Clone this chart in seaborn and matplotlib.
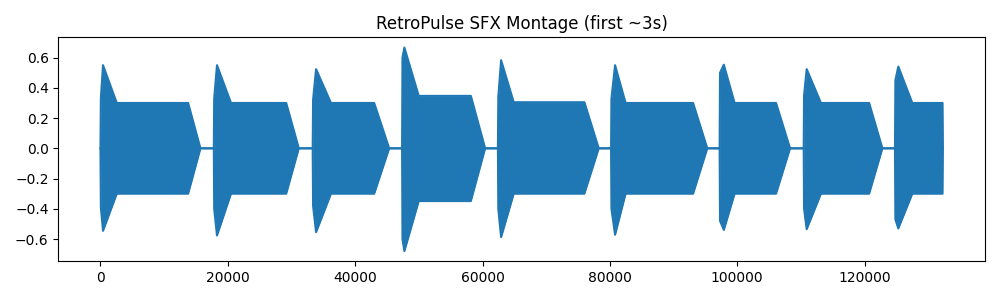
import numpy as np
import pandas as pd
import matplotlib
matplotlib.use("Agg")
import matplotlib.pyplot as plt
import seaborn as sns

# Envelope key points of each sound in the montage (sample index / amplitude)
seg_start = [0, 17800, 33330, 47370, 62420, 80190, 97240, 110440, 124780]
seg_peak_at = [400, 18300, 33860, 47730, 62920, 80820, 97900, 110910, 125300]
seg_decay_end = [2560, 20500, 36200, 49980, 64900, 82470, 99590, 113150, 127500]
seg_sustain_end = [13770, 29170, 42990, 58170, 76000, 93070, 106100, 120720, 132250]
seg_end = [15700, 31150, 45340, 60410, 78250, 95300, 108300, 122800, 132300]
onset_hi = [0.33, 0.33, 0.32, 0.60, 0.34, 0.33, 0.50, 0.35, 0.45]
onset_lo = [-0.39, -0.40, -0.38, -0.60, -0.40, -0.40, -0.48, -0.40, -0.47]
peak_hi = [0.55, 0.55, 0.524, 0.667, 0.583, 0.55, 0.553, 0.524, 0.541]
peak_lo = [-0.546, -0.577, -0.555, -0.68, -0.588, -0.572, -0.54, -0.535, -0.53]
sustain_hi = [0.30, 0.30, 0.30, 0.347, 0.305, 0.30, 0.30, 0.30, 0.30]
sustain_lo = [-0.30, -0.30, -0.30, -0.349, -0.30, -0.30, -0.30, -0.30, -0.30]

xs, his, los = [], [], []
for i in range(len(seg_start)):
    xs += [seg_start[i], seg_start[i] + 60, seg_peak_at[i], seg_decay_end[i],
           seg_sustain_end[i], seg_end[i]]
    his += [0.0, onset_hi[i], peak_hi[i], sustain_hi[i], sustain_hi[i], 0.0]
    los += [0.0, onset_lo[i], peak_lo[i], sustain_lo[i], sustain_lo[i], 0.0]

df = pd.DataFrame({"sample": xs, "hi": his, "lo": los})

color = "#1f77b4"
fig, ax = plt.subplots(figsize=(10, 3), dpi=100)
ax.fill_between(df["sample"], df["lo"], df["hi"], color=color, linewidth=0)
sns.lineplot(data=df, x="sample", y="hi", ax=ax, color=color, linewidth=1.5,
             estimator=None, sort=False)
sns.lineplot(data=df, x="sample", y="lo", ax=ax, color=color, linewidth=1.5,
             estimator=None, sort=False)
ax.set_xlabel("")
ax.set_ylabel("")
ax.set_title("RetroPulse SFX Montage (first ~3s)")
fig.tight_layout()
fig.savefig("out.png", dpi=100)
